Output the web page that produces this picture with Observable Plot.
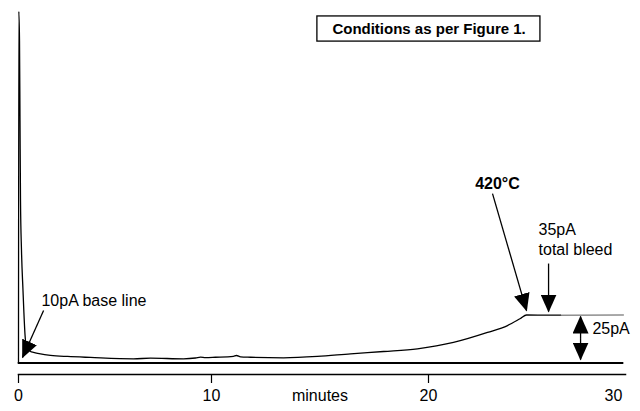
<!DOCTYPE html>
<html>
<head>
<meta charset="utf-8">
<script src="https://cdn.jsdelivr.net/npm/d3@7"></script>
<script src="https://cdn.jsdelivr.net/npm/@observablehq/plot@0.6"></script>
<style>
  html, body { margin: 0; padding: 0; background: #fff; }
  #chart svg { display: block; }
</style>
</head>
<body>
<div id="chart"></div>
<script>
// x axis: elapsed time in minutes
const tickValues = [0, 10, 20, 30];
const tickMarks = [0, 10, 20];
const axisTitle = [{ t: 15, label: "minutes" }];

// detector signal (pA) against time (min)
const minutes = [0, 0.016, 0.052, 0.078, 0.104, 0.155, 0.233, 0.275, 0.363, 0.466,
  0.622, 0.777, 1.14, 1.66, 2.54, 3.73, 5.96, 6.84, 8.55, 9.17,
  9.43, 9.69, 10.18, 11.01, 11.15, 11.34, 11.80, 13.32, 14.88, 16.41,
  17.93, 19.49, 21.35, 23.19, 24.27, 24.97, 25.30, 27.14];
const signal = [10, 193.1, 178.0, 136.3, 94.6, 68.6, 47.8, 37.3, 21.7, 18.1,
  16.0, 15.5, 14.7, 14.0, 13.4, 12.9, 12.2, 12.5, 12.2, 12.6,
  13.1, 12.8, 13.0, 13.5, 13.9, 13.2, 13.0, 12.7, 13.4, 14.8,
  16.0, 17.4, 20.7, 25.9, 29.5, 33.2, 35.0, 34.9];
// isothermal hold at the end of the run
const holdMinutes = [27.14, 30.54];
const holdSignal = [34.9, 35.0];

// 10 pA base line
const baseLevel = 10;
const baseSpan = [0, 30.49];

// annotation text
const plainLabels = [
  { t: 1.19, pA: 42.6, text: "10pA base line" },
  { t: 25.95, pA: 79.5, text: "35pA" },
  { t: 25.95, pA: 69.1, text: "total bleed" },
  { t: 28.86, pA: 28.0, text: "25pA" }
];
const boldLabels = [
  { t: 23.73, pA: 103.5, text: "420°C" }
];
const note = [{ t1: 14.88, t2: 26.05, pA1: 177.4, pA2: 190.5, tc: 20.03, pAc: 183.7, text: "Conditions as per Figure 1." }];

// arrows: tail (t1, pA1) to head (t2, pA2)
const arrows = [
  { t1: 1.30, pA1: 37.3, t2: 0.21, pA2: 12.9 },
  { t1: 23.46, pA1: 98.2, t2: 25.30, pA2: 37.3 },
  { t1: 26.49, pA1: 61.8, t2: 26.49, pA2: 36.8 },
  { t1: 28.22, pA1: 23.0, t2: 28.22, pA2: 34.2 },
  { t1: 28.22, pA1: 23.0, t2: 28.22, pA2: 11.8 }
];

const trace = minutes.map((t, i) => ({ t, pA: signal[i] }));
const hold = holdMinutes.map((t, i) => ({ t, pA: holdSignal[i] }));
const base = baseSpan.map(t => ({ t, pA: baseLevel }));

const font = "'Liberation Sans', Arial, Helvetica, sans-serif";

const chart = Plot.plot({
  width: 640,
  height: 411,
  marginLeft: 18,
  marginRight: 15,
  marginTop: 0,
  marginBottom: 37,
  x: { type: "linear", domain: [0, 10, 20, 30], range: [18, 211, 428, 613] },
  y: { type: "linear", domain: [10, 35], range: [362.5, 314.5], axis: null },
  style: { fontFamily: font, fontSize: "16px", background: "#fff", color: "#000", overflow: "visible" },
  marks: [
    Plot.frame({ anchor: "bottom", stroke: "#000", strokeWidth: 1.5 }),
    Plot.axisX({ ticks: tickMarks, tickSize: 9, fill: "none", stroke: "#000", strokeWidth: 1.2 }),
    Plot.text(tickValues, { x: d => d, text: d => String(d), frameAnchor: "bottom", dy: 26, fontSize: 16, fill: "#000" }),
    Plot.text(axisTitle, { x: "t", text: "label", frameAnchor: "bottom", dy: 26, fontSize: 16, fill: "#000" }),
    Plot.line(base, { x: "t", y: "pA", stroke: "#000", strokeWidth: 2 }),
    Plot.line(trace, { x: "t", y: "pA", stroke: "#000", strokeWidth: 1.3, curve: "monotone-x" }),
    Plot.line(hold, { x: "t", y: "pA", stroke: "#555", strokeWidth: 1 }),
    Plot.link(arrows, { x1: "t1", y1: "pA1", x2: "t2", y2: "pA2", stroke: "#000", strokeWidth: 1.3 }),
    Plot.text(plainLabels, { x: "t", y: "pA", text: "text", textAnchor: "start", fontSize: 16, fill: "#000" }),
    Plot.text(boldLabels, { x: "t", y: "pA", text: "text", textAnchor: "middle", fontSize: 16, fontWeight: "bold", fill: "#000" }),
    Plot.rect(note, { x1: "t1", x2: "t2", y1: "pA1", y2: "pA2", fill: "none", stroke: "#000", strokeWidth: 1.3 }),
    Plot.text(note, { x: "tc", y: "pAc", text: "text", fontSize: 15, fontWeight: "bold", fill: "#000" })
  ]
});

// filled arrowheads on the annotation links
const svg = d3.select(chart);
svg.insert("defs", ":first-child")
  .append("marker")
  .attr("id", "head")
  .attr("viewBox", "0 0 18 16")
  .attr("refX", 17)
  .attr("refY", 8)
  .attr("markerWidth", 18)
  .attr("markerHeight", 16)
  .attr("markerUnits", "userSpaceOnUse")
  .attr("orient", "auto")
  .append("path")
  .attr("d", "M0,0L18,8L0,16Z")
  .attr("fill", "#000");
svg.selectAll('g[aria-label="link"] path').attr("marker-end", "url(#head)");

document.getElementById("chart").appendChild(chart);
</script>
</body>
</html>
